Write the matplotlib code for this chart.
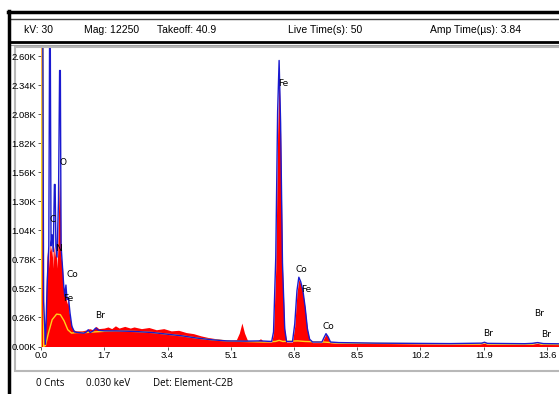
import matplotlib
matplotlib.use("Agg")
import matplotlib.pyplot as plt
from matplotlib.lines import Line2D
from matplotlib.patches import Rectangle
import numpy as np

# spectrum (keV, counts)
red_kev = [0.00, 0.04, 0.06, 0.08, 0.10, 0.13, 0.16, 0.19, 0.21, 0.23, 0.25, 0.27, 0.29, 0.31,
           0.33, 0.35, 0.37, 0.39, 0.41, 0.43, 0.45, 0.47, 0.50, 0.52, 0.54, 0.56, 0.58, 0.60,
           0.63, 0.66, 0.69, 0.72, 0.76, 0.80, 0.86, 0.95, 1.10, 1.25, 1.30, 1.40, 1.48, 1.55,
           1.70, 1.80, 1.90, 2.00, 2.10, 2.25, 2.40, 2.50, 2.70, 2.90, 3.10, 3.30, 3.50, 3.70,
           3.90, 4.10, 4.30, 4.50, 4.80, 5.10, 5.25, 5.33, 5.40, 5.47, 5.55, 5.80, 5.90, 5.98,
           6.20, 6.25, 6.31, 6.36, 6.40, 6.44, 6.49, 6.55, 6.60, 6.76, 6.82, 6.88, 6.93, 6.98,
           7.04, 7.10, 7.16, 7.22, 7.30, 7.55, 7.60, 7.66, 7.72, 7.78, 8.00, 9.00, 10.0, 11.0,
           11.85, 11.92, 12.0, 13.0, 13.2, 13.35, 13.5, 13.95]
red_cnt = [2700, 2700, 600, 200, 50, 400, 800, 900, 700, 950, 850, 900, 800, 950,
           700, 900, 850, 800, 900, 700, 850, 1200, 1550, 1300, 800, 750, 700, 550,
           450, 520, 380, 420, 300, 220, 150, 140, 140, 150, 160, 150, 180, 160,
           165, 175, 160, 185, 165, 180, 165, 175, 160, 170, 150, 160, 140, 145,
           125, 115, 95, 80, 65, 55, 60, 120, 210, 120, 55, 45, 70, 45,
           40, 120, 700, 1900, 2450, 1900, 700, 150, 40, 40, 180, 480, 600, 560,
           480, 340, 150, 60, 35, 35, 70, 110, 80, 35, 30, 28, 25, 22,
           25, 30, 22, 20, 22, 28, 20, 18]

blue_kev = [0.00, 0.05, 0.07, 0.12, 0.17, 0.21, 0.23, 0.25, 0.27, 0.30, 0.33, 0.36, 0.38, 0.40,
            0.43, 0.47, 0.50, 0.52, 0.54, 0.57, 0.61, 0.64, 0.67, 0.70, 0.74, 0.78, 0.83, 0.90,
            1.00, 1.15, 1.22, 1.27, 1.32, 1.40, 1.47, 1.55, 1.70, 2.00, 2.50, 3.00, 3.40, 3.80,
            4.20, 4.60, 5.00, 5.50, 5.90, 6.20, 6.25, 6.31, 6.36, 6.40, 6.44, 6.49, 6.55, 6.60,
            6.76, 6.82, 6.88, 6.93, 6.98, 7.04, 7.10, 7.16, 7.22, 7.30, 7.55, 7.60, 7.66, 7.72,
            7.78, 8.00, 9.00, 10.0, 11.0, 11.85, 11.92, 12.0, 13.0, 13.2, 13.35, 13.5, 13.95]
blue_cnt = [2700, 2700, 400, 20, 600, 900, 2700, 2700, 900, 1000, 850, 1450, 1450, 900,
            800, 1300, 2470, 2470, 900, 750, 550, 450, 550, 420, 430, 300, 180, 130,
            125, 120, 130, 150, 125, 140, 165, 145, 140, 140, 135, 125, 110, 95,
            75, 60, 50, 48, 50, 45, 130, 800, 2100, 2560, 2000, 750, 160, 45,
            45, 200, 500, 620, 580, 500, 350, 160, 65, 40, 40, 75, 115, 85,
            40, 35, 30, 28, 26, 30, 38, 28, 25, 28, 35, 26, 24]

bkg_kev = [0.00, 0.03, 0.05, 0.07, 0.12, 0.20, 0.30, 0.42, 0.52, 0.62, 0.72, 0.82, 0.95, 1.20,
           1.50, 1.80, 2.00, 2.50, 3.00, 3.40, 3.80, 4.20, 4.60, 5.00, 6.00, 6.30, 6.40, 6.50,
           6.90, 7.10, 7.60, 8.00, 11.8, 11.9, 12.0, 13.2, 13.33, 13.45, 13.95]
bkg_cnt = [0, 2700, 2700, 0, 10, 120, 240, 290, 285, 230, 150, 120, 125, 125,
           132, 138, 140, 135, 125, 110, 95, 75, 60, 50, 40, 45, 55, 45,
           50, 45, 40, 30, 22, 35, 22, 20, 35, 20, 18]

xticks = [0.0, 1.7, 3.4, 5.1, 6.8, 8.5, 10.2, 11.9, 13.6]
yticks = [0, 260, 520, 780, 1040, 1300, 1560, 1820, 2080, 2340, 2600]

peak_labels = [("O", 0.59, 1643), ("C", 0.32, 1141), ("N", 0.48, 873), ("Co", 0.83, 640),
               ("Fe", 0.73, 434), ("Br", 1.59, 273), ("Fe", 6.50, 2356), ("Co", 7.01, 685),
               ("Fe", 7.14, 506), ("Co", 7.72, 183), ("Br", 12.02, 118), ("Br", 13.40, 297),
               ("Br", 13.57, 109)]

header = [("kV: 30", 24), ("Mag: 12250", 84), ("Takeoff: 40.9", 157),
          ("Live Time(s): 50", 288), ("Amp Time(\u00b5s): 3.84", 430)]
footer = [("0 Cnts", 36), ("0.030 keV", 86), ("Det: Element-C2B", 153)]

W, H = 559, 394
fig = plt.figure(figsize=(W / 100, H / 100), dpi=100)


def fx(x):
    return x / W


def fy(y):
    return 1 - y / H


def hline(y, x0, x1, lw, color):
    fig.add_artist(Line2D([fx(x0), fx(x1)], [fy(y), fy(y)], lw=lw, color=color, zorder=-1))


# window frame
fig.add_artist(Rectangle((fx(15), fy(371)), fx(W + 5) - fx(15), fy(47) - fy(371),
                         facecolor="white", edgecolor="#b8b8b8", lw=1.5, zorder=-2))
hline(12, 8, W, 2.5, "black")
hline(18.5, 10, W, 1.0, "#404040")
hline(41.5, 10, W, 2.0, "black")
hline(44.5, 10, W, 0.8, "#a0a0a0")
fig.add_artist(Line2D([fx(9), fx(9)], [fy(11), fy(H)], lw=2.5, color="black", zorder=-1))

for txt, x in header:
    fig.text(fx(x), fy(30), txt, fontsize=7.5, family="Liberation Sans", va="center", ha="left")
for txt, x in footer:
    fig.text(fx(x), fy(383), txt, fontsize=7.0, family="Open Sans", va="center", ha="left")

# spectrum axes
x0, x1, ytop, ybot = 41, W, 48, 346.5
ax = fig.add_axes([fx(x0), fy(ybot), fx(x1) - fx(x0), fy(ytop) - fy(ybot)])
kev_per_px = 13.6 / (547 - 41)
cnt_per_px = 260 / 29.05
ax.set_xlim(0, (x1 - x0) * kev_per_px)
ax.set_ylim(0, (ybot - ytop) * cnt_per_px)

ax.fill_between(red_kev, red_cnt, 0, color="#ff0000", lw=0, zorder=2)
ax.plot(bkg_kev, bkg_cnt, color="#ffd21a", lw=1.0, zorder=3)
ax.plot(blue_kev, blue_cnt, color="#1a1ad0", lw=1.0, zorder=4)

for name, xk, yc in peak_labels:
    ax.text(xk, yc, name, fontsize=6.5, family="DejaVu Sans", ha="center", va="center",
            zorder=5)

ax.set_xticks(xticks)
ax.set_xticklabels(["%.1f" % v for v in xticks])
ax.set_yticks(yticks)
ax.set_yticklabels(["%.2fK" % (v / 1000) for v in yticks])
ax.tick_params(axis="both", length=2, width=0.6, color="#404040", labelsize=6.8, pad=1.5)
for lab in ax.get_xticklabels() + ax.get_yticklabels():
    lab.set_family("Liberation Sans")
for s in ax.spines.values():
    s.set_visible(False)
ax.set_facecolor("none")

fig.savefig("out.png", dpi=100)
